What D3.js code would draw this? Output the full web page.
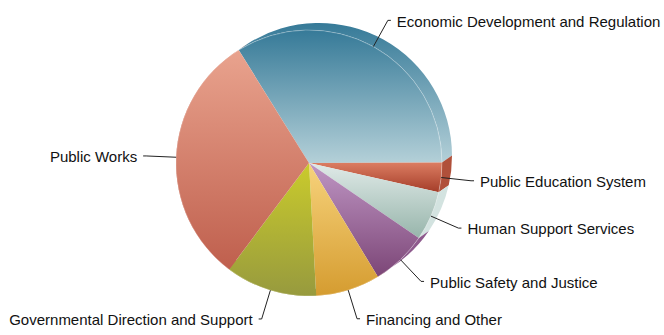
<!DOCTYPE html>
<html>
<head>
<meta charset="utf-8">
<script src="https://cdn.jsdelivr.net/npm/d3@7"></script>
<style>
  html, body { margin: 0; padding: 0; background: #fff; }
  svg { display: block; }
</style>
</head>
<body>
<svg id="chart" width="664" height="335"></svg>
<script>
// Budget shares by area (percent of total)
const categories = [
  "Economic Development and Regulation",
  "Public Education System",
  "Human Support Services",
  "Public Safety and Justice",
  "Financing and Other",
  "Governmental Direction and Support",
  "Public Works"
];
const shares = [33.8, 3.6, 6.0, 6.8, 7.8, 11.1, 30.9];

// Slice styling: vertical gradient from top colour to bottom colour, plus rim colour
const topColors    = ["#367a98", "#dc7d62", "#e0eae8", "#bf96c4", "#f7d37c", "#cacb2c", "#e9a38e"];
const bottomColors = ["#b4d0d8", "#a43d29", "#97b5ab", "#7c4677", "#d59c30", "#979a3e", "#bf5f4d"];
const rimColors    = [null,      "#b0503a", "#d3e3e0", "#8e5a8d", "#d8a445", "#a0a23c", "#c96b57"];

const cx = 309, cy = 163, R = 133;
const depth = { dx: 10, dy: -7 };           // offset of the back face (gives the 3D rim)
const startDeg = 238.1 + 90;                // first slice starts upper-left, runs clockwise
const startAngle = startDeg * Math.PI / 180;

const data = categories.map((name, i) => ({ name, value: shares[i], i }));

const svg = d3.select("#chart");
const defs = svg.append("defs");

data.forEach(d => {
  const g = defs.append("linearGradient")
    .attr("id", "grad" + d.i)
    .attr("x1", 0).attr("y1", 0).attr("x2", 0).attr("y2", 1);
  g.append("stop").attr("offset", "0%").attr("stop-color", topColors[d.i]);
  g.append("stop").attr("offset", "100%").attr("stop-color", bottomColors[d.i]);
});

const pie = d3.pie()
  .sort(null)
  .value(d => d.value)
  .startAngle(startAngle)
  .endAngle(startAngle + 2 * Math.PI);

const arcs = pie(data);

// Canvas-style angle (0 = east, clockwise) from a d3 pie angle (0 = north)
const ca = a => a - Math.PI / 2;

// Rim band: front outer arc joined to the shifted back arc
const rimPath = d => {
  const p = d3.path();
  const a0 = ca(d.startAngle), a1 = ca(d.endAngle);
  p.moveTo(cx + R * Math.cos(a0), cy + R * Math.sin(a0));
  p.arc(cx, cy, R, a0, a1, false);
  p.lineTo(cx + depth.dx + R * Math.cos(a1), cy + depth.dy + R * Math.sin(a1));
  p.arc(cx + depth.dx, cy + depth.dy, R, a1, a0, true);
  p.closePath();
  return p.toString();
};

const rims = svg.append("g").attr("class", "rims");
rims.selectAll("path")
  .data(arcs)
  .join("path")
  .attr("d", rimPath)
  .attr("fill", d => rimColors[d.data.i] || `url(#grad${d.data.i})`);

const arcGen = d3.arc().innerRadius(0).outerRadius(R);

const faces = svg.append("g").attr("transform", `translate(${cx},${cy})`);
faces.selectAll("path")
  .data(arcs)
  .join("path")
  .attr("d", arcGen)
  .attr("fill", d => `url(#grad${d.data.i})`);

// Thin light edge along the front face
const edgePath = d => {
  const p = d3.path();
  const a0 = ca(d.startAngle), a1 = ca(d.endAngle);
  p.moveTo(cx + R * Math.cos(a0), cy + R * Math.sin(a0));
  p.arc(cx, cy, R, a0, a1, false);
  return p.toString();
};
svg.append("g").selectAll("path")
  .data(arcs)
  .join("path")
  .attr("d", edgePath)
  .attr("fill", "none")
  .attr("stroke", "rgba(255,255,255,0.4)")
  .attr("stroke-width", 0.7);

// Labels with leader lines
const labelDist = 30;
const labels = svg.append("g").attr("class", "labels");
arcs.forEach(d => {
  const t = ca((d.startAngle + d.endAngle) / 2);
  const right = Math.cos(t) > 0;
  const sx = cx + R * Math.cos(t), sy = cy + R * Math.sin(t);
  const ex = cx + (R + labelDist) * Math.cos(t), ey = cy + (R + labelDist) * Math.sin(t);
  const tx = ex + (right ? 3 : -3);
  labels.append("path")
    .attr("d", `M${sx},${sy}L${ex},${ey}L${tx},${ey}`)
    .attr("fill", "none")
    .attr("stroke", "#222")
    .attr("stroke-width", 1);
  labels.append("text")
    .attr("x", ex + (right ? 9 : -9))
    .attr("y", ey + 1)
    .attr("dy", "0.35em")
    .attr("text-anchor", right ? "start" : "end")
    .attr("font-family", "'Liberation Sans', Arial, sans-serif")
    .attr("font-size", 15)
    .attr("fill", "#111")
    .text(d.data.name);
});
</script>
</body>
</html>
